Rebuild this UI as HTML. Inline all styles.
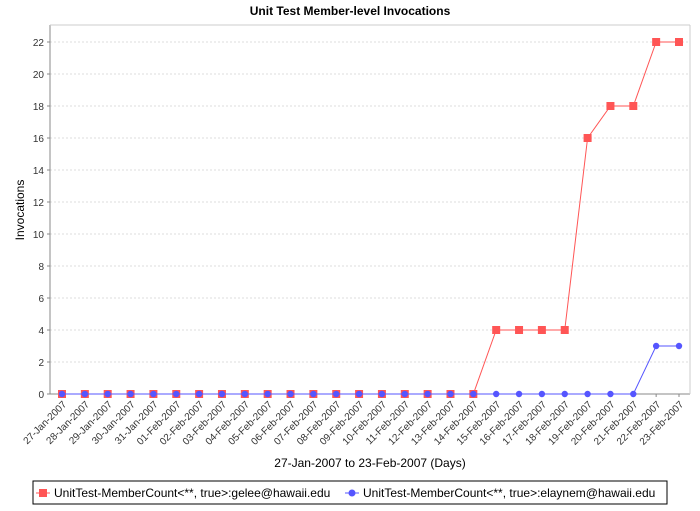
<!DOCTYPE html>
<html><head><meta charset="utf-8"><style>
body{margin:0;background:#fff;font-family:"Liberation Sans",sans-serif;}
</style></head><body>
<svg id="c" width="700" height="506" xmlns="http://www.w3.org/2000/svg"></svg>
<script>
const categories=["27-Jan-2007","28-Jan-2007","29-Jan-2007","30-Jan-2007","31-Jan-2007","01-Feb-2007","02-Feb-2007","03-Feb-2007","04-Feb-2007","05-Feb-2007","06-Feb-2007","07-Feb-2007","08-Feb-2007","09-Feb-2007","10-Feb-2007","11-Feb-2007","12-Feb-2007","13-Feb-2007","14-Feb-2007","15-Feb-2007","16-Feb-2007","17-Feb-2007","18-Feb-2007","19-Feb-2007","20-Feb-2007","21-Feb-2007","22-Feb-2007","23-Feb-2007"];
const geleeValues=[0,0,0,0,0,0,0,0,0,0,0,0,0,0,0,0,0,0,0,4,4,4,4,16,18,18,22,22];
const elaynemValues=[0,0,0,0,0,0,0,0,0,0,0,0,0,0,0,0,0,0,0,0,0,0,0,0,0,0,3,3];
const yTicks=[0,2,4,6,8,10,12,14,16,18,20,22];
const NS="http://www.w3.org/2000/svg";
const svg=document.getElementById('c');
const L=50,R=690,T=25,B=394;
const x0=62,x1=679;
function xs(i){return x0+i*(x1-x0)/(categories.length-1);}
function ys(v){return B-v*16;}
function mk(tag,attrs,parent){const e=document.createElementNS(NS,tag);for(const k in attrs)e.setAttribute(k,attrs[k]);(parent||svg).appendChild(e);return e;}
let t=mk('text',{x:350,y:15,'text-anchor':'middle','font-size':12,'font-weight':'bold'});


t.textContent='Unit Test Member-level Invocations';
let pa=mk('rect',{x:L,y:T,width:R-L,height:B-T,fill:'#fff',stroke:'none'});


yTicks.forEach(v=>{
 const y=ys(v);
 if(v>0){let g=mk('line',{x1:L,x2:R,y1:y,y2:y,stroke:'#ddd','stroke-dasharray':'2,2'});
 
 }
 mk('line',{x1:L-3,x2:L,y1:y,y2:y,stroke:'#888'});
 let l=mk('text',{x:L-6,y:y+4,'text-anchor':'end','font-size':10,fill:'#333'});
 
 
 l.textContent=v;
});
categories.forEach((c,i)=>{
 const x=xs(i);
 mk('line',{x1:x,x2:x,y1:B,y2:B+3,stroke:'#888'});
 const ax=x+5,ay=B+11;
 let l=mk('text',{x:ax,y:ay,'text-anchor':'end','font-size':10,fill:'#333',transform:`rotate(-45 ${ax} ${ay})`});
 
 
 l.textContent=c;
});
mk('line',{x1:L,x2:L,y1:T,y2:B,stroke:'#888'});
mk('line',{x1:L,x2:R,y1:B,y2:B,stroke:'#888'});
mk('line',{x1:R,x2:R,y1:T,y2:B,stroke:'#ccc'});
mk('line',{x1:L,x2:R,y1:T,y2:T,stroke:'#ccc'});
let yt=mk('text',{x:24,y:210,'text-anchor':'middle','font-size':12,transform:'rotate(-90 24 210)'});


yt.textContent='Invocations';
let xt=mk('text',{x:370,y:467,'text-anchor':'middle','font-size':12});


xt.textContent='27-Jan-2007 to 23-Feb-2007 (Days)';
function series(vals,color,shape,name){
 let p=mk('polyline',{points:vals.map((v,i)=>xs(i)+','+ys(v)).join(' '),fill:'none',stroke:color,'stroke-width':1});
 
 
 vals.forEach((v,i)=>{
  let m=shape==='sq'?mk('rect',{x:xs(i)-4,y:ys(v)-4,width:8,height:8,fill:color}):mk('circle',{cx:xs(i),cy:ys(v),r:3.2,fill:color});
  
  
 });
}
series(geleeValues,'#ff5555','sq','gelee');
series(elaynemValues,'#5555ff','c','elaynem');
let lg=mk('rect',{x:33,y:481,width:634,height:23,fill:'#fff',stroke:'#000'});


mk('line',{x1:36,x2:50,y1:493,y2:493,stroke:'#ff5555'});
mk('rect',{x:39,y:489,width:8,height:8,fill:'#ff5555'});
let l1=mk('text',{x:54,y:497,'font-size':12});


l1.textContent='UnitTest-MemberCount<**, true>:gelee@hawaii.edu';
mk('line',{x1:345,x2:359,y1:493,y2:493,stroke:'#5555ff'});
mk('circle',{cx:352,cy:493,r:3.5,fill:'#5555ff'});
let l2=mk('text',{x:363,y:497,'font-size':12});


l2.textContent='UnitTest-MemberCount<**, true>:elaynem@hawaii.edu';
</script>
</body></html>
